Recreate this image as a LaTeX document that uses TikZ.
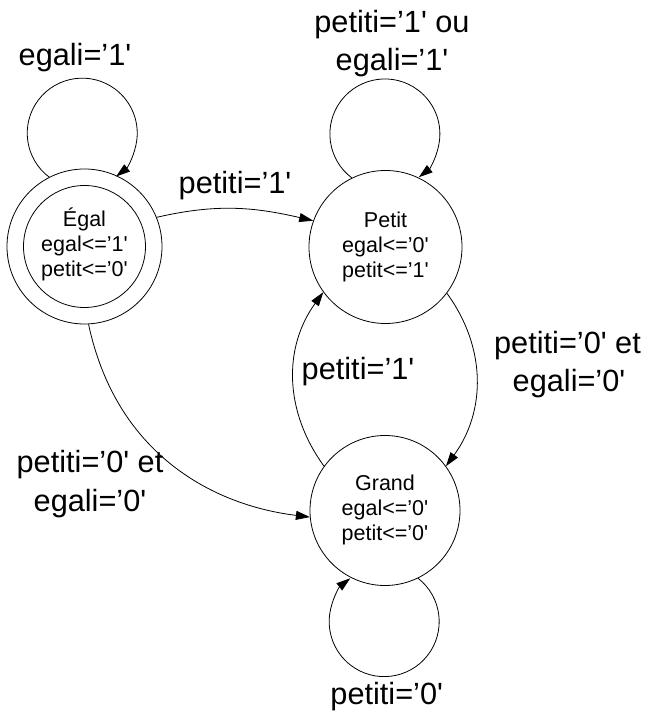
\documentclass[tikz,border=0pt]{standalone}
\usepackage{fontspec}
\newfontfamily\arialf{Liberation Sans}
\usetikzlibrary{arrows.meta}
\tikzset{
  statenode/.style={circle, draw, line width=0.8pt, inner sep=0pt, align=center,
    font=\arialf\fontsize{21.5}{25}\selectfont},
  lbl/.style={font=\arialf\fontsize{30.7}{36}\selectfont, anchor=base, inner sep=0pt},
  arr/.style={line width=0.8pt, -{Triangle[length=14pt,width=9pt]}}
}
\begin{document}
\begin{tikzpicture}[x=1pt,y=1pt]
\useasboundingbox (0,0) rectangle (647,716);
% states
\node[statenode, minimum size=155pt] (egal) at (84.5,469.5)
  {\rule{0pt}{21pt}Égal\\egal<=’1'\\petit<=’0'\rule[-10pt]{0pt}{10pt}};
\draw[line width=0.8pt] (egal.center) circle[radius=61pt];
\node[statenode, minimum size=153pt] (petit) at (385.5,469)
  {\rule{0pt}{21pt}Petit\\egal<=’0'\\petit<=’1'\rule[-10pt]{0pt}{10pt}};
\node[statenode, minimum size=150pt] (grand) at (385,205.5)
  {\rule{0pt}{21pt}Grand\\egal<=’0'\\petit<=’0'\rule[-10pt]{0pt}{10pt}};
% self loops
\draw[arr] (egal.117) arc[start angle=233, end angle=-52, radius=55pt];
\draw[arr] (petit.116) arc[start angle=233, end angle=-52, radius=55pt];
\draw[arr] (grand.-64) arc[start angle=52, end angle=-232, radius=55pt];
% transitions
\draw[arr] (egal.22) to[out=13, in=167] (petit.160);
\draw[arr] (egal.-87) to[out=-78, in=173, out distance=130pt, in distance=101pt] (grand.185);
\draw[arr] (petit.-37) to[out=-54, in=54] (grand.36);
\draw[arr] (grand.144) to[out=126, in=-126] (petit.-144);
% labels
\node[lbl] (lEE) at (75,650) {egali=’1'};
\node[lbl] (lPP1) at (392,683) {petiti=’1' ou};
\node[lbl] (lPP2) at (392,645.3) {egali=’1'};
\node[lbl] (lEP) at (235,522.7) {petiti=’1'};
\node[lbl] (lGP) at (358,336) {petiti=’1'};
\node[lbl] (lPG1) at (567.5,362) {petiti=’0' et};
\node[lbl] (lPG2) at (569,324) {egali=’0'};
\node[lbl] (lEG1) at (90,243) {petiti=’0' et};
\node[lbl] (lEG2) at (90,204.3) {egali=’0'};
\node[lbl] (lGG) at (386.7,11) {petiti=’0'};
\end{tikzpicture}
\end{document}
